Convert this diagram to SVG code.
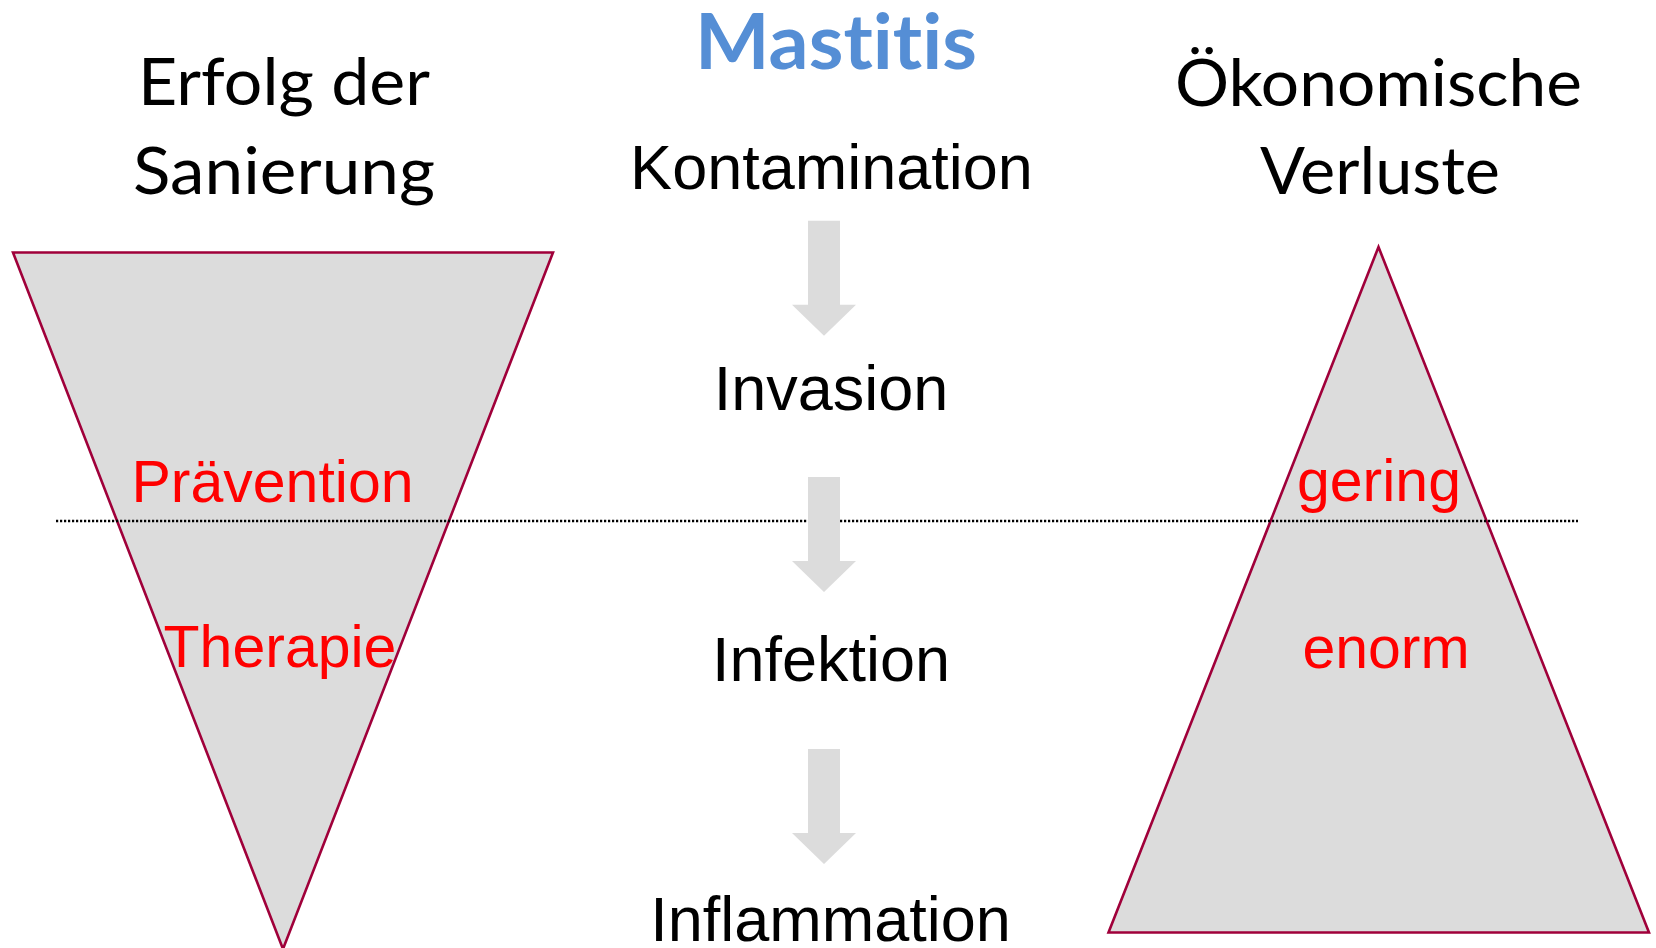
<svg xmlns="http://www.w3.org/2000/svg" xmlns:xlink="http://www.w3.org/1999/xlink" width="1656" height="948" viewBox="0 0 1656 948">
<style>
.hdr{font-family:Lato,"Liberation Sans",sans-serif;font-size:66px;fill:#000;text-anchor:middle;font-variant-ligatures:none}
.title{font-family:Lato,"Liberation Sans",sans-serif;font-weight:bold;font-size:77px;fill:#558ED5;text-anchor:middle;font-variant-ligatures:none}
.step{font-family:"Liberation Sans",Arial,sans-serif;font-size:63px;fill:#000;text-anchor:middle}
.red{font-family:"Liberation Sans",Arial,sans-serif;font-size:59px;fill:#FF0000;text-anchor:middle}
.tri{fill:#DCDCDC;stroke:#A0003A;stroke-width:2.6;stroke-linejoin:miter}
.arrow{fill:#DCDCDC;stroke:none}
.sep{stroke:#000;stroke-width:2.4;stroke-dasharray:2.2 1.8;fill:none}
</style>
<defs>
<path id="downArrow" d="M808,0 H840 V84 H856 L824,115 L792,84 H808 Z"/>
</defs>
<rect width="1656" height="948" fill="#FFFFFF"/>

<g id="left-funnel">
<polygon class="tri" points="13,252.5 553,252.5 283,949"/>
</g>
<g id="right-pyramid">
<polygon class="tri" points="1378.5,247 1649,932.5 1108.5,932.5"/>
</g>

<g id="separator">
<line class="sep" x1="56" y1="521" x2="1578" y2="521"/>
</g>

<g id="title">
<text class="title" x="836" y="68.5" textLength="282" lengthAdjust="spacingAndGlyphs">Mastitis</text>
</g>

<g id="header-left">
<text class="hdr" x="284" y="105" textLength="292" lengthAdjust="spacingAndGlyphs">Erfolg der</text>
<text class="hdr" x="284" y="193.5" textLength="302" lengthAdjust="spacingAndGlyphs">Sanierung</text>
</g>

<g id="header-right">
<text class="hdr" x="1378.5" y="105.5" textLength="407" lengthAdjust="spacingAndGlyphs">Ökonomische</text>
<text class="hdr" x="1380" y="194" textLength="240" lengthAdjust="spacingAndGlyphs">Verluste</text>
</g>

<g id="step-kontamination">
<text class="step" x="831.5" y="188.5">Kontamination</text>
</g>
<g id="step-invasion">
<text class="step" x="831" y="410">Invasion</text>
</g>
<g id="step-infektion">
<text class="step" x="831" y="681">Infektion</text>
</g>
<g id="step-inflammation">
<text class="step" x="830.5" y="940.5">Inflammation</text>
</g>

<g id="connectors">
<use xlink:href="#downArrow" href="#downArrow" class="arrow" transform="translate(0,220.7)"/>
<use xlink:href="#downArrow" href="#downArrow" class="arrow" transform="translate(0,477)"/>
<use xlink:href="#downArrow" href="#downArrow" class="arrow" transform="translate(0,749)"/>
</g>

<g id="label-praevention">
<text class="red" x="272.5" y="502">Prävention</text>
</g>
<g id="label-therapie">
<text class="red" x="280" y="667">Therapie</text>
</g>
<g id="label-gering">
<text class="red" x="1379" y="501">gering</text>
</g>
<g id="label-enorm">
<text class="red" x="1386" y="668">enorm</text>
</g>
</svg>
